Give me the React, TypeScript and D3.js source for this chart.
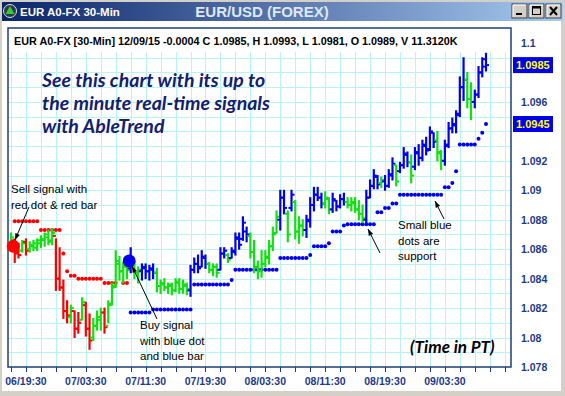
import * as d3 from 'd3';
import React, { useEffect, useRef } from 'react';

// 30-min bars, EUR/USD, 06/17:30 .. 09/09:00
const highs = [
  1.0871, 1.0867, 1.0864, 1.0866, 1.0867, 1.0865, 1.0866, 1.0867, 1.0869, 1.0871, 1.0873, 1.0874,
  1.0867, 1.0861, 1.0839, 1.0825, 1.0822, 1.0818, 1.0817, 1.0827, 1.0824, 1.0816, 1.0813, 1.0818,
  1.0820, 1.0820, 1.0825, 1.0837, 1.0859, 1.0855, 1.0851, 1.0852, 1.0861, 1.0851, 1.0848, 1.0850,
  1.0850, 1.0849, 1.0850, 1.0847, 1.0839, 1.0840, 1.0837, 1.0837, 1.0840, 1.0840, 1.0839, 1.0837,
  1.0849, 1.0854, 1.0856, 1.0859, 1.0856, 1.0851, 1.0850, 1.0850, 1.0861, 1.0861, 1.0857, 1.0861,
  1.0871, 1.0871, 1.0882, 1.0875, 1.0871, 1.0866, 1.0852, 1.0859, 1.0859, 1.0866, 1.0875, 1.0886,
  1.0900, 1.0900, 1.0886, 1.0900, 1.0893, 1.0882, 1.0880, 1.0883, 1.0895, 1.0902, 1.0902, 1.0898,
  1.0899, 1.0895, 1.0898, 1.0893, 1.0897, 1.0898, 1.0895, 1.0895, 1.0895, 1.0893, 1.0890, 1.0900,
  1.0907, 1.0914, 1.0910, 1.0909, 1.0910, 1.0914, 1.0922, 1.0917, 1.0919, 1.0929, 1.0926, 1.0924,
  1.0929, 1.0931, 1.0934, 1.0936, 1.0943, 1.0939, 1.0940, 1.0927, 1.0934, 1.0946, 1.0949, 1.0954,
  1.0977, 1.0990, 1.0980, 1.0973, 1.0968, 1.0984, 1.0990, 1.0993,
];
const lows = [
  1.0861, 1.0851, 1.0854, 1.0858, 1.0856, 1.0858, 1.0859, 1.0859, 1.0861, 1.0862, 1.0863, 1.0863,
  1.0832, 1.0832, 1.0813, 1.0810, 1.0810, 1.0800, 1.0803, 1.0812, 1.0801, 1.0792, 1.0798, 1.0805,
  1.0805, 1.0803, 1.0810, 1.0822, 1.0834, 1.0839, 1.0837, 1.0840, 1.0844, 1.0840, 1.0837, 1.0839,
  1.0840, 1.0839, 1.0840, 1.0831, 1.0830, 1.0832, 1.0830, 1.0829, 1.0831, 1.0830, 1.0830, 1.0829,
  1.0828, 1.0844, 1.0844, 1.0848, 1.0847, 1.0844, 1.0842, 1.0841, 1.0846, 1.0854, 1.0851, 1.0854,
  1.0856, 1.0860, 1.0866, 1.0865, 1.0854, 1.0844, 1.0840, 1.0841, 1.0848, 1.0850, 1.0859, 1.0871,
  1.0873, 1.0884, 1.0865, 1.0886, 1.0867, 1.0864, 1.0869, 1.0868, 1.0875, 1.0886, 1.0893, 1.0888,
  1.0888, 1.0884, 1.0885, 1.0886, 1.0888, 1.0890, 1.0888, 1.0886, 1.0885, 1.0880, 1.0878, 1.0878,
  1.0895, 1.0901, 1.0901, 1.0902, 1.0900, 1.0902, 1.0907, 1.0903, 1.0912, 1.0915, 1.0916, 1.0905,
  1.0914, 1.0917, 1.0920, 1.0924, 1.0927, 1.0929, 1.0920, 1.0914, 1.0917, 1.0929, 1.0939, 1.0939,
  1.0950, 1.0961, 1.0956, 1.0948, 1.0956, 1.0963, 1.0977, 1.0981,
];
const opens = [
  1.0863, 1.0866, 1.0858, 1.0859, 1.0865, 1.0860, 1.0862, 1.0861, 1.0864, 1.0866, 1.0868, 1.0866,
  1.0869, 1.0840, 1.0834, 1.0818, 1.0814, 1.0818, 1.0806, 1.0812, 1.0822, 1.0806, 1.0800, 1.0808,
  1.0812, 1.0817, 1.0808, 1.0823, 1.0835, 1.0850, 1.0845, 1.0848, 1.0847, 1.0849, 1.0844, 1.0845,
  1.0847, 1.0845, 1.0846, 1.0844, 1.0835, 1.0836, 1.0834, 1.0835, 1.0832, 1.0837, 1.0833, 1.0835,
  1.0832, 1.0846, 1.0850, 1.0848, 1.0854, 1.0850, 1.0846, 1.0848, 1.0846, 1.0857, 1.0856, 1.0854,
  1.0858, 1.0867, 1.0867, 1.0872, 1.0869, 1.0858, 1.0848, 1.0845, 1.0850, 1.0854, 1.0862, 1.0871,
  1.0880, 1.0895, 1.0884, 1.0888, 1.0892, 1.0872, 1.0876, 1.0873, 1.0879, 1.0890, 1.0897, 1.0895,
  1.0891, 1.0894, 1.0887, 1.0893, 1.0889, 1.0894, 1.0892, 1.0890, 1.0891, 1.0887, 1.0884, 1.0880,
  1.0895, 1.0903, 1.0909, 1.0905, 1.0906, 1.0903, 1.0910, 1.0917, 1.0913, 1.0917, 1.0924, 1.0919,
  1.0916, 1.0925, 1.0922, 1.0930, 1.0928, 1.0939, 1.0934, 1.0925, 1.0920, 1.0931, 1.0942, 1.0944,
  1.0952, 1.0970, 1.0975, 1.0962, 1.0960, 1.0965, 1.0980, 1.0989,
];
const closes = [
  1.0868, 1.0857, 1.0856, 1.0864, 1.0859, 1.0863, 1.0864, 1.0866, 1.0867, 1.0870, 1.0865, 1.0871,
  1.0840, 1.0834, 1.0818, 1.0815, 1.0820, 1.0806, 1.0810, 1.0824, 1.0806, 1.0798, 1.0808, 1.0814,
  1.0817, 1.0807, 1.0822, 1.0834, 1.0852, 1.0845, 1.0849, 1.0846, 1.0850, 1.0844, 1.0846, 1.0848,
  1.0845, 1.0847, 1.0844, 1.0835, 1.0837, 1.0834, 1.0836, 1.0832, 1.0838, 1.0833, 1.0836, 1.0833,
  1.0846, 1.0850, 1.0847, 1.0855, 1.0850, 1.0846, 1.0848, 1.0844, 1.0857, 1.0859, 1.0853, 1.0859,
  1.0868, 1.0863, 1.0878, 1.0870, 1.0858, 1.0848, 1.0845, 1.0850, 1.0855, 1.0862, 1.0870, 1.0882,
  1.0895, 1.0888, 1.0870, 1.0897, 1.0872, 1.0876, 1.0873, 1.0880, 1.0890, 1.0897, 1.0895, 1.0891,
  1.0895, 1.0887, 1.0894, 1.0889, 1.0894, 1.0892, 1.0890, 1.0892, 1.0887, 1.0884, 1.0881, 1.0895,
  1.0903, 1.0910, 1.0904, 1.0907, 1.0903, 1.0911, 1.0918, 1.0906, 1.0917, 1.0925, 1.0919, 1.0910,
  1.0926, 1.0922, 1.0931, 1.0927, 1.0940, 1.0933, 1.0926, 1.0920, 1.0930, 1.0942, 1.0945, 1.0951,
  1.0970, 1.0975, 1.0962, 1.0960, 1.0965, 1.0980, 1.0984, 1.0985,
];
// r = sell (red), g = neutral (green), b = buy (blue)
const barColors = (
  'grrgrggggggg' + 'rrrrgrrgrrgg' + 'grgggggg' +
  'bggbbbb' + 'ggggggggg' + 'bbbbb' + 'ggg' + 'bb' + 'g' + 'bbbbb' + 'gggggggg' +
  'bb' + 'g' + 'b' + 'ggg' + 'bbbbb' + 'gg' + 'bbbb' + 'ggggg' + 'bbbb' + 'g' +
  'bbb' + 'g' + 'bbb' + 'g' + 'bbbbbb' + 'gg' + 'bbbbbb' + 'gg' + 'bbbb'
).split('');

// trailing stops: red above price (bars 1..31), blue support below (bars 32..127)
const redStopStart = 1;
const redStops = [
  1.0879, 1.0879, 1.0879, 1.0879, 1.0879, 1.0879, 1.0879,
  1.0873, 1.0873, 1.0873, 1.0873, 1.0873, 1.0873,
  1.0857, 1.0845, 1.0842, 1.0842,
  1.0840, 1.0840, 1.0840, 1.0840, 1.0840, 1.0840, 1.0840,
  1.0837, 1.0837, 1.0837, 1.0837, null, 1.0837, 1.0837,
];
const blueStopStart = 32;
const blueStops = [
  1.0817, 1.0817, 1.0817, 1.0817, 1.0817, 1.0817,
  1.0819, 1.0819, 1.0819, 1.0819, 1.0819, 1.0819, 1.0819, 1.0819, 1.0819, 1.0819, 1.0819,
  1.0836, 1.0836, 1.0836, 1.0836, 1.0836, 1.0836, 1.0836, 1.0836, 1.0836, 1.0836,
  1.0839,
  1.0846, 1.0846, 1.0846, 1.0846, 1.0846, 1.0846, 1.0846, 1.0846, 1.0846, 1.0846, 1.0846, 1.0846,
  1.0854, 1.0854, 1.0854, 1.0854, 1.0854, 1.0854, 1.0854, 1.0854,
  1.0856,
  1.0862, 1.0862, 1.0862, 1.0862,
  1.0864,
  1.0872, 1.0872, 1.0872,
  1.0876,
  1.0877, 1.0877, 1.0877, 1.0877, 1.0877, 1.0877, 1.0877, 1.0877,
  1.0885, 1.0885, 1.0888, 1.0888, 1.0891, 1.0891,
  1.0897, 1.0897, 1.0897, 1.0897, 1.0897, 1.0897, 1.0897, 1.0897, 1.0897, 1.0897, 1.0897, 1.0897,
  1.0902, 1.0902, 1.0905, 1.0913,
  1.0931, 1.0931, 1.0931, 1.0931, 1.0931,
  1.0935, 1.0939, 1.0945,
];
const sellSignal = { bar: 1, price: 1.0862 };
const buySignal = { bar: 32, price: 1.0852 };

const yTicks = [1.1, 1.096, 1.092, 1.09, 1.088, 1.086, 1.084, 1.082, 1.08, 1.078];
const yTickText = ['1.1', '1.096', '1.092', '1.09', '1.088', '1.086', '1.084', '1.082', '1.08', '1.078'];
const xLabelBars = [4, 20, 36, 52, 68, 84, 100, 116];
const xLabels = ['06/19:30', '07/03:30', '07/11:30', '07/19:30', '08/03:30', '08/11:30', '08/19:30', '09/03:30'];
const lastMarkers = [
  { price: 1.0985, text: '1.0985' },
  { price: 1.0945, text: '1.0945' },
];

const COLORS: Record<string, string> = { r: '#ff0000', g: '#11e011', b: '#0000ee' };
const AXIS = '#1d3a8a';

const App: React.FC = () => {
  const svgRef = useRef<SVGSVGElement | null>(null);

  useEffect(() => {
    document.body.style.margin = '0';
    if (!svgRef.current) return;
    const svg = d3.select(svgRef.current);
    svg.selectAll('*').remove();

    const W = 565;
    const H = 396;
    const panel = { left: 8, top: 28, right: 511, bottom: 367 };

    const x = d3.scaleLinear().domain([0, 127]).range([11, 486]);
    const y = d3.scaleLinear().domain([1.078, 1.1]).range([367, 43]);

    const defs = svg.append('defs');
    const grad = defs.append('linearGradient').attr('id', 'tb').attr('x1', 0).attr('x2', 1);
    grad.append('stop').attr('offset', '0%').attr('stop-color', '#0a246a');
    grad.append('stop').attr('offset', '100%').attr('stop-color', '#a6caf0');
    defs.append('clipPath').attr('id', 'plotclip')
      .append('rect')
      .attr('x', panel.left).attr('y', 52)
      .attr('width', panel.right - panel.left).attr('height', panel.bottom - 52);

    // window frame
    svg.append('rect').attr('width', W).attr('height', H).attr('fill', '#d4d0c8');
    svg.append('rect').attr('x', 2).attr('y', 21).attr('width', W - 6).attr('height', H - 26).attr('fill', '#ffffff');
    svg.append('rect').attr('x', 2).attr('y', 2).attr('width', W - 4).attr('height', 19).attr('fill', 'url(#tb)');

    // title bar
    svg.append('circle').attr('cx', 10).attr('cy', 11).attr('r', 6.5).attr('fill', '#2a3a4a').attr('stroke', '#e0e0e0');
    svg.append('path').attr('d', 'M10,6 L14.5,14 L5.5,14 Z').attr('fill', '#33cc33');
    svg.append('text').attr('x', 20).attr('y', 15.5)
      .attr('font-family', 'Liberation Sans, Arial, sans-serif').attr('font-weight', 'bold')
      .attr('font-size', 11.5).attr('fill', '#ffffff').text('EUR A0-FX 30-Min');
    svg.append('text').attr('x', 262).attr('y', 16.5).attr('text-anchor', 'middle')
      .attr('font-family', 'Liberation Sans, Arial, sans-serif').attr('font-weight', 'bold')
      .attr('font-size', 15).attr('fill', '#dfe8f5').text('EUR/USD (FOREX)');
    const btns = ['min', 'max', 'close'];
    btns.forEach((b, i) => {
      const bx = 512 + i * 17;
      const g = svg.append('g');
      g.append('rect').attr('x', bx).attr('y', 4).attr('width', 15).attr('height', 14)
        .attr('fill', '#d4d0c8').attr('stroke', '#404040');
      g.append('path').attr('d', `M${bx + 1},${17} V${5} H${bx + 14}`).attr('stroke', '#ffffff').attr('fill', 'none');
      if (b === 'min') {
        g.append('rect').attr('x', bx + 4).attr('y', 13).attr('width', 6).attr('height', 2).attr('fill', '#000');
      } else if (b === 'max') {
        g.append('rect').attr('x', bx + 3.5).attr('y', 6.5).attr('width', 8).attr('height', 8)
          .attr('fill', 'none').attr('stroke', '#000');
        g.append('rect').attr('x', bx + 3.5).attr('y', 6.5).attr('width', 8).attr('height', 2).attr('fill', '#000');
      } else {
        g.append('path').attr('d', `M${bx + 4},${7} L${bx + 11},${15} M${bx + 11},${7} L${bx + 4},${15}`)
          .attr('stroke', '#000').attr('stroke-width', 2);
      }
    });

    // grid
    const grid = svg.append('g').attr('clip-path', 'url(#plotclip)');
    d3.range(1.079, 1.1, 0.001).forEach((p) => {
      grid.append('line').attr('x1', panel.left).attr('x2', panel.right)
        .attr('y1', Math.round(y(p)) + 0.5).attr('y2', Math.round(y(p)) + 0.5)
        .attr('stroke', '#b8f4f4').attr('stroke-width', 1);
    });
    d3.range(0, 134, 4).forEach((i) => {
      grid.append('line').attr('y1', panel.top).attr('y2', panel.bottom)
        .attr('x1', Math.round(x(i)) + 0.5).attr('x2', Math.round(x(i)) + 0.5)
        .attr('stroke', '#b8f4f4').attr('stroke-width', 1);
    });

    // bottom ticks
    d3.range(0, 134, 4).forEach((i) => {
      svg.append('line').attr('y1', panel.bottom).attr('y2', panel.bottom + 5)
        .attr('x1', Math.round(x(i)) + 0.5).attr('x2', Math.round(x(i)) + 0.5)
        .attr('stroke', AXIS).attr('stroke-width', 1);
    });

    // panel border
    svg.append('rect').attr('x', panel.left).attr('y', panel.top)
      .attr('width', panel.right - panel.left).attr('height', panel.bottom - panel.top)
      .attr('fill', 'none').attr('stroke', '#1b3f7a').attr('stroke-width', 1.5);

    // stops
    redStops.forEach((v, i) => {
      if (v == null) return;
      svg.append('circle').attr('cx', x(redStopStart + i)).attr('cy', y(v)).attr('r', 2).attr('fill', '#ff0000');
    });
    blueStops.forEach((v, i) => {
      svg.append('circle').attr('cx', x(blueStopStart + i)).attr('cy', y(v)).attr('r', 2).attr('fill', '#0000ee');
    });

    // OHLC bars
    const bars = svg.append('g');
    highs.forEach((h, i) => {
      const c = COLORS[barColors[i]] || COLORS.b;
      const cx = x(i);
      bars.append('line').attr('x1', cx).attr('x2', cx).attr('y1', y(h) - 0.5).attr('y2', y(lows[i]) + 0.5)
        .attr('stroke', c).attr('stroke-width', 2.2);
      bars.append('line').attr('x1', cx - 3).attr('x2', cx).attr('y1', y(opens[i])).attr('y2', y(opens[i]))
        .attr('stroke', c).attr('stroke-width', 2);
      bars.append('line').attr('x1', cx).attr('x2', cx + 3).attr('y1', y(closes[i])).attr('y2', y(closes[i]))
        .attr('stroke', c).attr('stroke-width', 2);
    });

    // signal dots
    svg.append('circle').attr('cx', x(sellSignal.bar) - 1.5).attr('cy', y(sellSignal.price)).attr('r', 6.5).attr('fill', '#ff0000');
    svg.append('circle').attr('cx', x(buySignal.bar) - 1.5).attr('cy', y(buySignal.price)).attr('r', 6.5).attr('fill', '#0000ee');

    // header line
    svg.append('text').attr('x', 14).attr('y', 44.5)
      .attr('font-family', 'Liberation Sans, Arial, sans-serif').attr('font-weight', 'bold')
      .attr('font-size', 10.8).attr('fill', '#000')
      .text('EUR A0-FX [30-Min] 12/09/15  -0.0004 C 1.0985, H 1.0993, L 1.0981, O 1.0989, V 11.3120K');

    // right axis
    yTicks.forEach((t, i) => {
      svg.append('text').attr('x', 521).attr('y', y(t) + 4)
        .attr('font-family', 'Liberation Sans, Arial, sans-serif').attr('font-weight', 'bold')
        .attr('font-size', 10.5).attr('fill', AXIS).text(yTickText[i]);
    });
    lastMarkers.forEach((m) => {
      svg.append('rect').attr('x', 513).attr('y', y(m.price) - 8).attr('width', 40).attr('height', 16).attr('fill', '#0000ee');
      svg.append('text').attr('x', 516).attr('y', y(m.price) + 4)
        .attr('font-family', 'Liberation Sans, Arial, sans-serif').attr('font-weight', 'bold')
        .attr('font-size', 11).attr('fill', '#ffff00').text(m.text);
    });

    // bottom axis labels
    xLabelBars.forEach((b, i) => {
      svg.append('text').attr('x', x(b)).attr('y', 385).attr('text-anchor', 'middle')
        .attr('font-family', 'Liberation Sans, Arial, sans-serif').attr('font-weight', 'bold')
        .attr('font-size', 10.5).attr('fill', AXIS).text(xLabels[i]);
    });

    // annotations
    const promo = ['See this chart with its up to', 'the minute real-time signals', 'with AbleTrend'];
    promo.forEach((t, i) => {
      svg.append('text').attr('x', 42).attr('y', 87 + i * 23)
        .attr('font-family', 'Lato, sans-serif').attr('font-weight', 'bold').attr('font-style', 'italic')
        .attr('font-size', 19.5).attr('fill', '#14206e').text(t);
    });
    svg.append('text').attr('x', 410).attr('y', 353)
      .attr('font-family', 'Lato, sans-serif').attr('font-weight', 'bold').attr('font-style', 'italic')
      .attr('font-size', 17).attr('fill', '#000').text('(Time in PT)');

    const note = (lines: string[], nx: number, ny: number) => {
      lines.forEach((t, i) => {
        svg.append('text').attr('x', nx).attr('y', ny + i * 15.5)
          .attr('font-family', 'Liberation Sans, Arial, sans-serif')
          .attr('font-size', 11.5).attr('fill', '#000').text(t);
      });
    };
    note(['Sell signal with', 'red dot & red bar'], 11, 193);
    note(['Buy signal', 'with blue dot', 'and blue bar'], 140, 329);
    note(['Small blue', 'dots are', 'support'], 398, 229);

    const arrow = (x1: number, y1: number, x2: number, y2: number) => {
      const a = Math.atan2(y2 - y1, x2 - x1);
      const l = 7;
      const w = 0.35;
      svg.append('line').attr('x1', x1).attr('y1', y1).attr('x2', x2).attr('y2', y2)
        .attr('stroke', '#000').attr('stroke-width', 1);
      svg.append('path')
        .attr('d', `M${x2},${y2} L${x2 - l * Math.cos(a - w)},${y2 - l * Math.sin(a - w)} L${x2 - l * Math.cos(a + w)},${y2 - l * Math.sin(a + w)} Z`)
        .attr('fill', '#000');
    };
    arrow(29, 207, 15, 240);
    arrow(157, 319, 132, 266);
    arrow(380, 253, 368, 229);
    arrow(444, 219, 435, 201);
  }, []);

  return <svg ref={svgRef} width={565} height={396} style={{ display: 'block' }} />;
};

export default App;
